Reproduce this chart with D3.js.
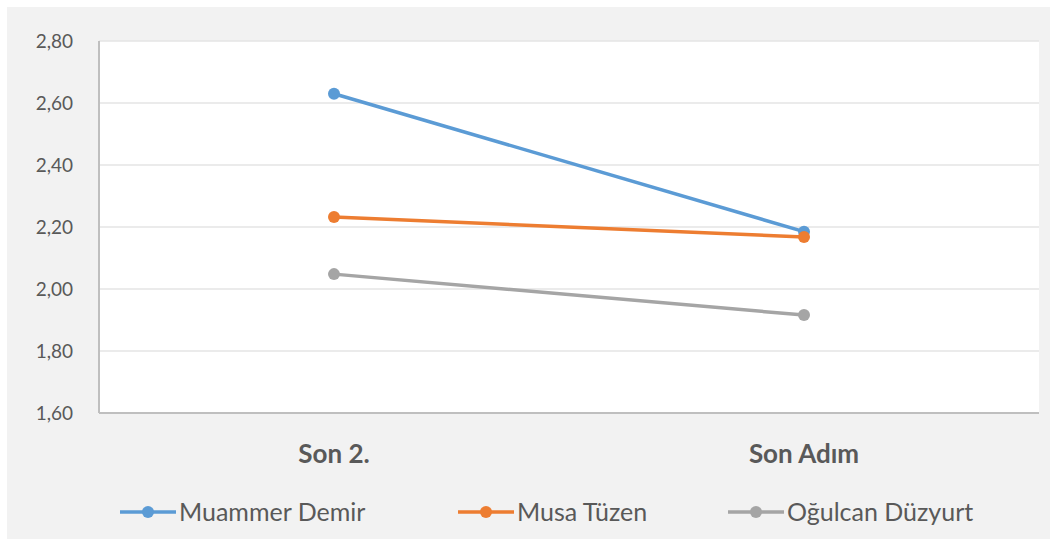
<!DOCTYPE html>
<html>
  <head>
    <meta charset="UTF-8">
    <title>Son 2. / Son Adım</title>
    <script src="https://d3js.org/d3.v7.min.js"></script>
    <style>
      body { margin: 0; background: #fff; }
      text { font-family: Lato, "Open Sans", sans-serif; }
    </style>
  </head>
  <body>
    <div id="chart"></div>
    <script>
      // data
      const categories = ["Son 2.", "Son Adım"];
      const seriesNames = ["Muammer Demir", "Musa Tüzen", "Oğulcan Düzyurt"];
      const muammer = [2.63, 2.185];
      const musa = [2.232, 2.168];
      const ogulcan = [2.048, 1.916];
      const yTicks = [1.6, 1.8, 2.0, 2.2, 2.4, 2.6, 2.8];
      const colors = ["#5b9bd5", "#ed7d31", "#a5a5a5"];

      const series = seriesNames.map((name, i) => ({
        name: name,
        values: [muammer, musa, ogulcan][i],
        color: colors[i]
      }));

      const W = 1062, H = 539;
      const plot = {left: 99, right: 1039, top: 41, bottom: 413};

      const svg = d3.select("#chart").append("svg")
        .attr("width", W)
        .attr("height", H);

      // grey chart panel
      svg.append("rect")
        .attr("x", 7).attr("y", 7)
        .attr("width", 1043).attr("height", H)
        .attr("fill", "#f2f2f2");

      svg.append("rect")
        .attr("x", plot.left).attr("y", plot.top)
        .attr("width", plot.right - plot.left)
        .attr("height", plot.bottom - plot.top)
        .attr("fill", "#fff");

      const x = d3.scaleBand()
        .domain(categories)
        .range([plot.left, plot.right]);

      const y = d3.scaleLinear()
        .domain([1.6, 2.8])
        .range([plot.bottom, plot.top]);

      // gridlines
      svg.append("g")
        .selectAll("line")
        .data(yTicks.slice(1))
        .join("line")
        .attr("x1", plot.left).attr("x2", plot.right)
        .attr("y1", d => y(d)).attr("y2", d => y(d))
        .attr("stroke", "#e4e4e4")
        .attr("stroke-width", 1.5);

      // y axis labels
      const yAxis = svg.append("g")
        .attr("transform", `translate(${plot.left},0)`)
        .call(d3.axisLeft(y).tickValues(yTicks)
          .tickFormat(d => d3.format(".2f")(d).replace(".", ","))
          .tickSize(0).tickPadding(26));
      yAxis.select(".domain").remove();
      yAxis.selectAll("text")
        .attr("fill", "#595959")
        .style("font-size", "19px");

      // axis lines
      svg.append("line")
        .attr("x1", plot.left).attr("x2", plot.left)
        .attr("y1", plot.top).attr("y2", plot.bottom)
        .attr("stroke", "#bfbfbf").attr("stroke-width", 2);
      svg.append("line")
        .attr("x1", plot.left).attr("x2", plot.right)
        .attr("y1", plot.bottom).attr("y2", plot.bottom)
        .attr("stroke", "#bfbfbf").attr("stroke-width", 2);

      // category labels
      const xAxis = svg.append("g")
        .attr("transform", `translate(0,${plot.bottom})`)
        .call(d3.axisBottom(x).tickSize(0).tickPadding(32));
      xAxis.select(".domain").remove();
      xAxis.selectAll("text")
        .attr("fill", "#595959")
        .style("font-size", "26px")
        .style("font-weight", "bold");

      const line = d3.line()
        .x((d, i) => x(categories[i]) + x.bandwidth() / 2)
        .y(d => y(d));

      const g = svg.append("g");
      series.forEach(s => {
        g.append("path")
          .datum(s.values)
          .attr("d", line)
          .attr("fill", "none")
          .attr("stroke", s.color)
          .attr("stroke-width", 3.5);
        g.selectAll(null)
          .data(s.values)
          .join("circle")
          .attr("cx", (d, i) => x(categories[i]) + x.bandwidth() / 2)
          .attr("cy", d => y(d))
          .attr("r", 6)
          .attr("fill", s.color);
      });

      // legend
      const legendX = [120, 458, 728];
      const legend = svg.append("g")
        .selectAll("g")
        .data(series)
        .join("g")
        .attr("transform", (d, i) => `translate(${legendX[i]},512)`);
      legend.append("line")
        .attr("x1", 0).attr("x2", 56)
        .attr("stroke", d => d.color)
        .attr("stroke-width", 3.5);
      legend.append("circle")
        .attr("cx", 28).attr("r", 6)
        .attr("fill", d => d.color);
      legend.append("text")
        .attr("x", 59)
        .attr("dy", "0.35em")
        .attr("fill", "#595959")
        .style("font-size", "25px")
        .text(d => d.name);
    </script>
  </body>
</html>
